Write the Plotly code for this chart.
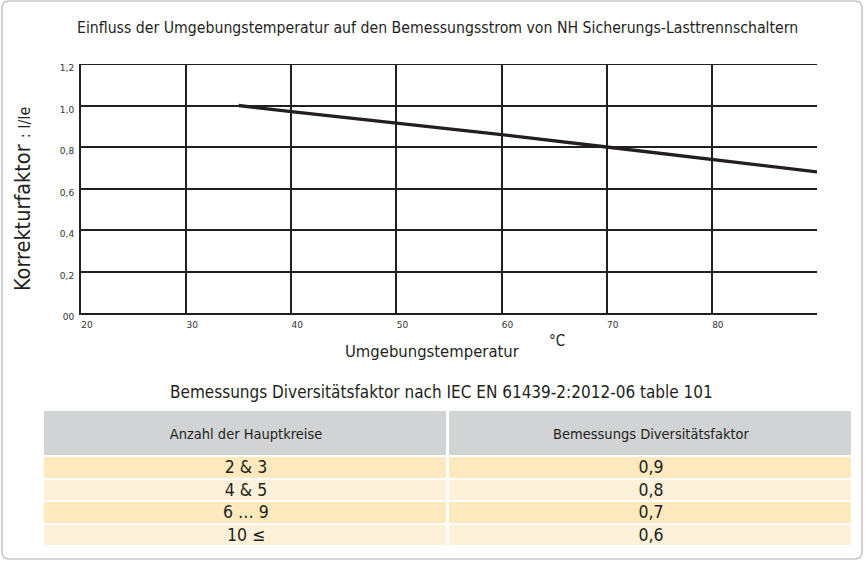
import plotly.graph_objects as go

# ---- data ----
temp_c = [35, 40, 50, 60, 70, 80, 90]
korrektur = [1.0, 0.97, 0.915, 0.86, 0.80, 0.74, 0.68]

x_ticks = [20, 30, 40, 50, 60, 70, 80]
x_ticktext = ["20", "30", "40", "50", "60", "70", "80"]
y_ticks = [0, 0.2, 0.4, 0.6, 0.8, 1.0, 1.2]
y_ticktext = ["00", "0,2", "0,4", "0,6", "0,8", "1,0", "1,2"]
y_top = 1.2

table_header = ["Anzahl der Hauptkreise", "Bemessungs Diversitätsfaktor"]
hauptkreise = ["2 &amp; 3", "4 &amp; 5", "6 … 9", "10 ≤"]
diversitaet = ["0,9", "0,8", "0,7", "0,6"]
row_shade = [1, 2, 1, 2]          # alternating row colour index

title_main = "Einfluss der Umgebungstemperatur auf den Bemessungsstrom von NH Sicherungs-Lasttrennschaltern"
title_table = "Bemessungs Diversitätsfaktor nach IEC EN 61439-2:2012-06 table 101"

W, H = 865, 562
FONT = "DejaVu Sans Condensed, Liberation Sans Narrow, Roboto, sans-serif"
TICKFONT = "DejaVu Sans, Verdana, sans-serif"
INK = "#231f20"


def px_x(p):
    return p / W


def px_y(p):
    return 1 - p / H


fig = go.Figure()

fig.add_trace(go.Scatter(
    x=temp_c, y=korrektur, mode="lines",
    line=dict(color=INK, width=3.3), showlegend=False, hoverinfo="x+y",
))

# ---- table drawn as heatmap bricks on its own axes ----
col_edges = [0, 1, 2]
header_edges = [0, 45]
row_edges = [45, 67.5, 90, 112.5, 135]
colorscale = [[0, "#d1d3d4"], [0.5, "#fde9bd"], [1, "#fef1da"]]

fig.add_trace(go.Heatmap(
    x=col_edges, y=header_edges, z=[[0, 0]], text=[table_header],
    texttemplate="%{text}", textfont=dict(family=FONT, size=14.5, color=INK),
    colorscale=colorscale, zmin=0, zmax=2, showscale=False,
    xgap=3, ygap=1, xaxis="x2", yaxis="y2", hoverinfo="skip",
))
fig.add_trace(go.Heatmap(
    x=col_edges, y=row_edges,
    z=[[s, s] for s in row_shade],
    text=[[a, b] for a, b in zip(hauptkreise, diversitaet)],
    texttemplate="%{text}", textfont=dict(family=FONT, size=17.5, color=INK),
    colorscale=colorscale, zmin=0, zmax=2, showscale=False,
    xgap=3, ygap=2, xaxis="x2", yaxis="y2", hoverinfo="skip",
))

fig.update_layout(
    width=W, height=H, autosize=False,
    margin=dict(l=0, r=0, t=0, b=0, autoexpand=False),
    paper_bgcolor="white", plot_bgcolor="white",
    showlegend=False,
    xaxis=dict(
        domain=[px_x(81), px_x(817)],
        range=[20, 90],
        tickvals=x_ticks, ticktext=x_ticktext,
        showgrid=True, gridcolor=INK, gridwidth=1.8,
        showline=True, linecolor=INK, linewidth=2,
        zeroline=False, ticks="", automargin=False,
        tickfont=dict(family=TICKFONT, size=9, color="#333"),
        ticklabelshift=6, ticklabelstandoff=2,
    ),
    yaxis=dict(
        domain=[px_y(313), px_y(64)],
        range=[0, y_top],
        tickvals=y_ticks, ticktext=y_ticktext,
        showgrid=True, gridcolor=INK, gridwidth=1.8,
        showline=True, linecolor=INK, linewidth=2,
        zeroline=False, ticks="", automargin=False,
        tickfont=dict(family=TICKFONT, size=9, color="#333"),
        ticklabelshift=4, ticklabelstandoff=3,
    ),
    xaxis2=dict(
        domain=[px_x(43), px_x(853)], range=[0, 2],
        visible=False, fixedrange=True,
    ),
    yaxis2=dict(
        domain=[px_y(546), px_y(411)], range=[135, 0],
        visible=False, fixedrange=True,
    ),
    annotations=[
        dict(text=title_main, x=px_x(437), y=px_y(28), xref="paper", yref="paper",
             xanchor="center", yanchor="middle",
             showarrow=False, font=dict(family=FONT, size=15.7, color=INK)),
        dict(text="Umgebungstemperatur", x=px_x(343), y=px_y(351),
             xref="paper", yref="paper", xanchor="left", yanchor="middle",
             showarrow=False, font=dict(family=FONT, size=16.5, color=INK)),
        dict(text="°C", x=px_x(547), y=px_y(341),
             xref="paper", yref="paper", xanchor="left", yanchor="middle",
             showarrow=False, font=dict(family=FONT, size=15, color=INK)),
        dict(text="Korrekturfaktor <span style='font-size:16px'>: I/Ie</span>",
             x=px_x(22), y=px_y(199), xref="paper", yref="paper", textangle=-90,
             xanchor="center", yanchor="middle",
             showarrow=False, font=dict(family=FONT, size=21.5, color=INK)),
        dict(text=title_table, x=px_x(442), y=px_y(392), xref="paper", yref="paper",
             xanchor="center", yanchor="middle",
             showarrow=False, font=dict(family=FONT, size=17, color=INK)),
    ],
)

# top grid line at 1,2 (plotly hides the grid line lying on the plot edge)
fig.add_shape(type="line", xref="x domain", yref="y", x0=0, x1=1, y0=y_top, y1=y_top,
              line=dict(color=INK, width=1.8))

# rounded outer frame
r = 7
x0, x1, y0, y1 = 2, 862, 1, 559
path = (f"M {px_x(x0+r)},{px_y(y0)} L {px_x(x1-r)},{px_y(y0)} "
        f"Q {px_x(x1)},{px_y(y0)} {px_x(x1)},{px_y(y0+r)} "
        f"L {px_x(x1)},{px_y(y1-r)} Q {px_x(x1)},{px_y(y1)} {px_x(x1-r)},{px_y(y1)} "
        f"L {px_x(x0+r)},{px_y(y1)} Q {px_x(x0)},{px_y(y1)} {px_x(x0)},{px_y(y1-r)} "
        f"L {px_x(x0)},{px_y(y0+r)} Q {px_x(x0)},{px_y(y0)} {px_x(x0+r)},{px_y(y0)} Z")
fig.add_shape(type="path", path=path, xref="paper", yref="paper",
              line=dict(color="#c4c4c4", width=1.5), layer="below")

fig.write_html(
    "out.html", config={"displayModeBar": False, "responsive": False},
    post_script=("document.body.style.margin='0';"
                 "document.body.style.overflow='hidden';"
                 "document.documentElement.style.overflow='hidden';"),
)
